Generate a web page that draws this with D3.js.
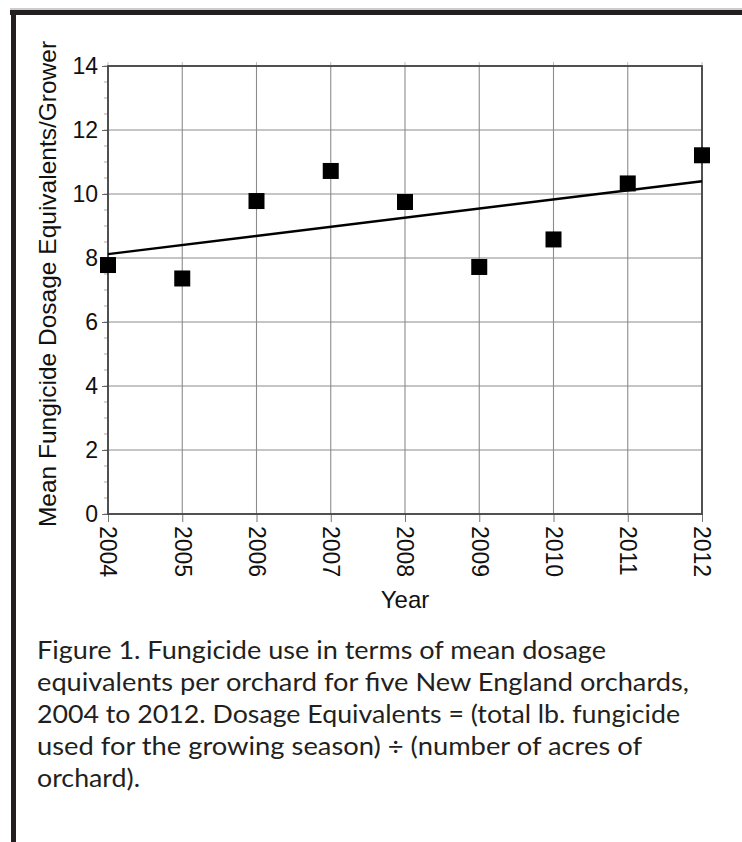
<!DOCTYPE html>
<html>
<head>
<meta charset="utf-8">
<script src="https://cdn.jsdelivr.net/npm/d3@7"></script>
<style>
  body { margin: 0; background: #fff; }
  svg { display: block; }
</style>
</head>
<body>
<div id="chart"></div>
<script>
// values
var years = [2004, 2005, 2006, 2007, 2008, 2009, 2010, 2011, 2012];
var dosage = [7.78, 7.36, 9.78, 10.72, 9.75, 7.72, 8.58, 10.33, 11.21];
var yTicks = [0, 2, 4, 6, 8, 10, 12, 14];
var minorTicks = d3.range(0, 14.01, 0.5);
var trendYears = [2004, 2012];
var trendValues = [8.12, 10.40];
var captionLines = [
    "Figure 1. Fungicide use in terms of mean dosage",
    "equivalents per orchard for five New England orchards,",
    "2004 to 2012. Dosage Equivalents = (total lb. fungicide",
    "used for the growing season) \u00f7 (number of acres of",
    "orchard)."
];
// right edge of each caption line in the picture
var captionEnds = [606, 689, 680, 642, 140];

function makeChart() {
    var width = 742, height = 842;
    var plot = {left: 108, right: 702, top: 66, bottom: 514};

    var svg = d3.select("#chart").append("svg")
        .attr("width", width)
        .attr("height", height);

    // frame around the figure (top and left edges only show)
    svg.append("line")
        .attr("x1", 10).attr("x2", width).attr("y1", 9).attr("y2", 9)
        .style("stroke", "#9a9a9a").style("stroke-width", 1);
    svg.append("rect")
        .attr("x", 10).attr("y", 10).attr("width", width - 10).attr("height", 5)
        .style("fill", "#231f20");
    svg.append("rect")
        .attr("x", 11).attr("y", 10).attr("width", 5).attr("height", height - 10)
        .style("fill", "#231f20");

    var x = d3.scaleLinear()
        .domain([2004, 2012])
        .range([plot.left, plot.right]);
    var y = d3.scaleLinear()
        .domain([0, 14])
        .range([plot.bottom, plot.top]);

    var g = svg.append("g");

    // grid
    g.selectAll(".vgrid").data(years)
        .enter().append("line")
        .attr("class", "vgrid")
        .attr("x1", function(d) { return x(d); })
        .attr("x2", function(d) { return x(d); })
        .attr("y1", plot.top).attr("y2", plot.bottom)
        .style("stroke", "#8c8c8c").style("stroke-width", 1.1);
    g.selectAll(".hgrid").data(yTicks)
        .enter().append("line")
        .attr("class", "hgrid")
        .attr("x1", plot.left).attr("x2", plot.right)
        .attr("y1", function(d) { return y(d); })
        .attr("y2", function(d) { return y(d); })
        .style("stroke", "#8c8c8c").style("stroke-width", 1.1);

    // minor ticks on the left axis
    g.selectAll(".minor").data(minorTicks)
        .enter().append("line")
        .attr("class", "minor")
        .attr("x1", plot.left - 4).attr("x2", plot.left)
        .attr("y1", function(d) { return y(d); })
        .attr("y2", function(d) { return y(d); })
        .style("stroke", "#aaa").style("stroke-width", 1);

    // small ticks along the top edge
    g.selectAll(".toptick").data(years)
        .enter().append("line")
        .attr("class", "toptick")
        .attr("x1", function(d) { return x(d); })
        .attr("x2", function(d) { return x(d); })
        .attr("y1", plot.top - 4).attr("y2", plot.top)
        .style("stroke", "#bbb").style("stroke-width", 1);

    // y axis
    var yAxis = d3.axisLeft(y).tickValues(yTicks).tickSize(6).tickPadding(4)
        .tickFormat(d3.format("d"));
    var ya = g.append("g")
        .attr("transform", "translate(" + plot.left + ",0)")
        .call(yAxis);
    ya.select(".domain").remove();
    ya.selectAll("line").style("stroke", "#666");
    ya.selectAll("text")
        .style("font-family", "'Liberation Sans', Arial, sans-serif")
        .style("font-size", "23px")
        .style("fill", "#111");

    // x axis, labels turned to read downwards
    var xAxis = d3.axisBottom(x).tickValues(years).tickSize(8).tickFormat(d3.format("d"));
    var xa = g.append("g")
        .attr("transform", "translate(0," + plot.bottom + ")")
        .call(xAxis);
    xa.select(".domain").remove();
    xa.selectAll("line").style("stroke", "#777");
    xa.selectAll("text")
        .attr("transform", "rotate(90)")
        .attr("x", 12).attr("y", 0).attr("dy", "0.35em")
        .style("text-anchor", "start")
        .style("font-family", "'Liberation Sans', Arial, sans-serif")
        .style("font-size", "23px")
        .style("fill", "#111");

    // plot box
    g.append("rect")
        .attr("x", plot.left).attr("y", plot.top)
        .attr("width", plot.right - plot.left).attr("height", plot.bottom - plot.top)
        .style("fill", "none").style("stroke", "#444").style("stroke-width", 1.8);

    // axis titles
    svg.append("text")
        .attr("transform", "translate(56," + ((plot.top + plot.bottom) / 2 - 6) + ") rotate(-90)")
        .style("text-anchor", "middle")
        .style("font-family", "'Liberation Sans', Arial, sans-serif")
        .style("font-size", "24.5px")
        .style("fill", "#111")
        .text("Mean Fungicide Dosage Equivalents/Grower");
    svg.append("text")
        .attr("x", (plot.left + plot.right) / 2)
        .attr("y", 608)
        .style("text-anchor", "middle")
        .style("font-family", "'Liberation Sans', Arial, sans-serif")
        .style("font-size", "24px")
        .style("fill", "#111")
        .text("Year");

    // trend line
    var line = d3.line()
        .x(function(d) { return x(d[0]); })
        .y(function(d) { return y(d[1]); });
    g.append("path")
        .datum(d3.zip(trendYears, trendValues))
        .attr("d", line)
        .style("fill", "none").style("stroke", "#000").style("stroke-width", 2.4);

    // data squares
    var s = 16;
    g.selectAll(".pt").data(d3.zip(years, dosage))
        .enter().append("rect")
        .attr("class", "pt")
        .attr("x", function(d) { return x(d[0]) - s / 2; })
        .attr("y", function(d) { return y(d[1]) - s / 2; })
        .attr("width", s).attr("height", s)
        .style("fill", "#000");

    // caption
    svg.selectAll(".caption").data(captionLines)
        .enter().append("text")
        .attr("class", "caption")
        .attr("x", 37)
        .attr("y", function(d, i) { return 659 + i * 32; })
        .attr("textLength", function(d, i) { return captionEnds[i] - 37; })
        .attr("lengthAdjust", "spacingAndGlyphs")
        .style("font-family", "Lato, 'Open Sans', sans-serif")
        .style("font-size", "25px")
        .style("fill", "#231f20")
        .text(function(d) { return d; });
}

makeChart();
</script>
</body>
</html>
